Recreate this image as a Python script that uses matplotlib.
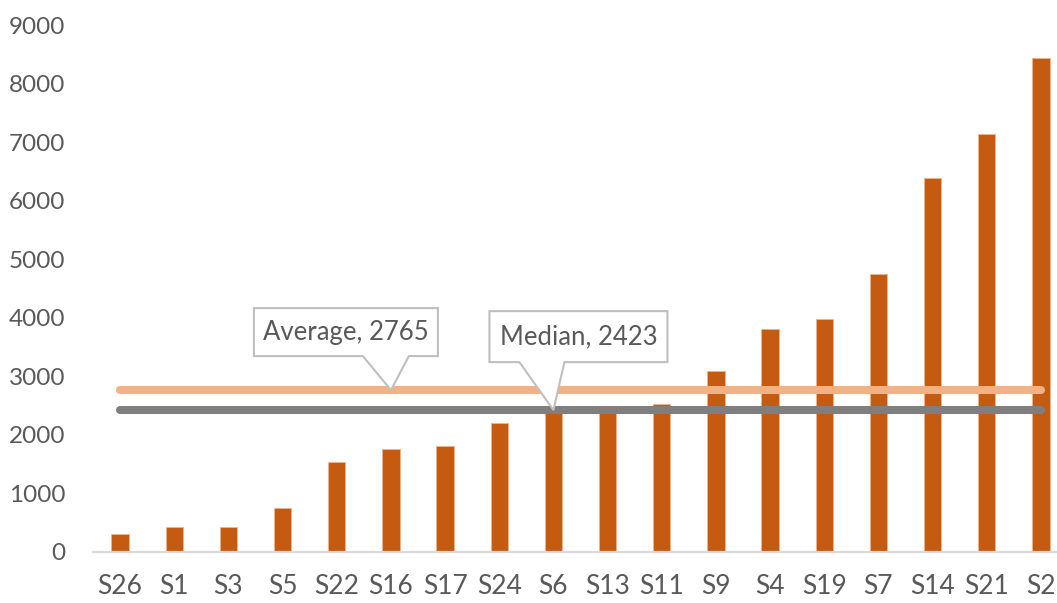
import numpy as np
import matplotlib.pyplot as plt
from matplotlib.patches import Polygon

# 数据
samples = ['S26', 'S1', 'S3', 'S5', 'S22', 'S16', 'S17', 'S24', 'S6',
           'S13', 'S11', 'S9', 'S4', 'S19', 'S7', 'S14', 'S21', 'S2']
values = [302, 432, 432, 746, 1537, 1759, 1810, 2208, 2400,
          2420, 2522, 3096, 3808, 3979, 4742, 6387, 7138, 8431]
average = 2765
median = 2423
avg_label_at = 'S16'
med_label_at = 'S6'

plt.rcParams['font.family'] = ['Lato', 'DejaVu Sans']
text_color = '#595959'

fig = plt.figure(figsize=(10.57, 6.03), dpi=100)
W, H = 1057, 603
ax = fig.add_axes([93 / W, 51 / H, 975 / W, 527 / H])

x = np.arange(len(samples))
ax.bar(x, values, width=0.32, color='#C55A11', edgecolor='#F0B48A', linewidth=0.6, zorder=2)
ax.plot([x[0], x[-1]], [average, average], color='#F4B183', lw=5.8,
        solid_capstyle='round', zorder=3)
ax.plot([x[0], x[-1]], [median, median], color='#7F7F7F', lw=5.8,
        solid_capstyle='round', zorder=3)

ax.set_xlim(-0.5, len(samples) - 0.5)
ax.set_ylim(0, 9000)
ax.set_yticks(np.arange(0, 9001, 1000))
ax.set_xticks(x)
ax.set_xticklabels(samples)
ax.tick_params(axis='both', length=0, labelcolor=text_color)
ax.tick_params(axis='x', pad=16, labelsize=19)
ax.tick_params(axis='y', pad=20, labelsize=17.5)
for side in ['top', 'right', 'left']:
    ax.spines[side].set_visible(False)
ax.spines['bottom'].set_color('#D9D9D9')
ax.spines['bottom'].set_linewidth(1.6)


def callout(xi, yv, text, left, right, base_l, base_r, top_off, bot_off):
    # 标注框，带指向数据点的尖角（像素偏移）
    tx, ty = ax.transData.transform((xi, yv))
    pts = [(tx + left, ty + bot_off), (tx + base_l, ty + bot_off), (tx, ty),
           (tx + base_r, ty + bot_off), (tx + right, ty + bot_off),
           (tx + right, ty + top_off), (tx + left, ty + top_off)]
    poly = Polygon(pts, closed=True, transform=None, facecolor='white',
                   edgecolor='#BFBFBF', linewidth=1.5, zorder=5)
    fig.patches.append(poly)
    fig.text((tx + (left + right) / 2) / W, (ty + (top_off + bot_off) / 2) / H, text,
             ha='center', va='center', fontsize=18.5, color=text_color, zorder=6)


callout(samples.index(avg_label_at), average, f'Average, {average}',
        -137, 47, -28, 18, 82, 34)
callout(samples.index(med_label_at), median, f'Median, {median}',
        -64, 114, -34, 11, 99, 48)

fig.savefig('out.png', dpi=100)
